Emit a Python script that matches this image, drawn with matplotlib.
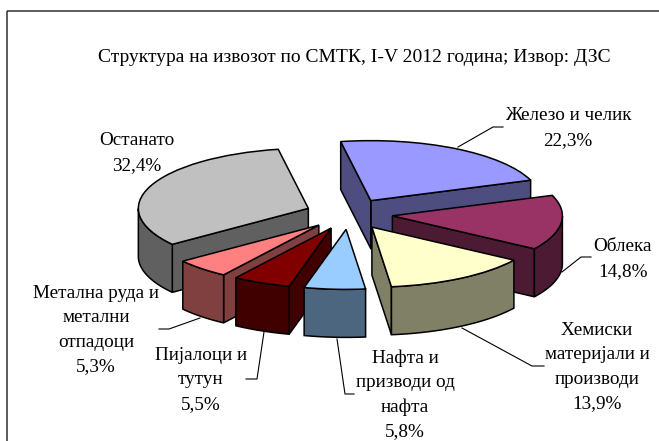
import numpy as np
import matplotlib
matplotlib.use('Agg')
import matplotlib.pyplot as plt
from matplotlib.patches import Polygon, Rectangle

# data
categories = ['Железо и челик', 'Облека', 'Хемиски\nматеријали и\nпроизводи', 'Нафта и\nпризводи од\nнафта',
              'Пијалоци и\nтутун', 'Метална руда и\nметални\nотпадоци', 'Останато']
values = [22.3, 14.8, 13.9, 5.8, 5.5, 5.3, 32.4]
value_labels = ['22,3%', '14,8%', '13,9%', '5,8%', '5,5%', '5,3%', '32,4%']
top_colors = ['#9999FF', '#993366', '#FFFFCC', '#99CCFF', '#800000', '#FF8080', '#C0C0C0']
side_colors = ['#4D4D80', '#4D1A33', '#808066', '#4D6680', '#400000', '#804040', '#606060']
title = 'Структура на извозот по СМТК, I-V 2012 година; Извор: ДЗС'

# label centres and leader lines, in pixels
label_pos = [(568, 128), (623, 259), (597, 367), (405, 395), (201, 380), (96, 330), (137, 153)]
leaders = [[(458, 147), (493, 127), (503, 127)],
           [(562, 272), (581, 257), (591, 257)],
           [(462, 328), (532, 366), (544, 366)],
           [(337, 339), (345, 394), (354, 394)],
           [(264, 332), (257, 379), (246, 379)],
           [(200, 318), (169, 329), (159, 329)],
           None]

W, H = 659, 441
cx, cy = 349, 214
rx, ry = 170, 60
depth = 48 / ry

plt.rcParams['font.family'] = ['Liberation Serif', 'DejaVu Serif']

fig = plt.figure(figsize=(W / 100, H / 100), dpi=100, facecolor='white')

# the pie is drawn in unit circle coordinates, the axes limits squash it
ax = fig.add_axes([0, 0, 1, 1])
wedges, _ = ax.pie(values, colors=top_colors, startangle=100.2, counterclock=False,
                   explode=[0.257] * len(values),
                   wedgeprops={'edgecolor': 'black', 'linewidth': 1.1})
ax.set_aspect('auto')
ax.set_xlim(-cx / rx, (W - cx) / rx)
ax.set_ylim((cy - H) / ry, cy / ry)
ax.axis('off')


def wall(xs, ys):
    # extrude a top edge straight down
    xs = np.asarray(xs)
    ys = np.asarray(ys)
    return np.column_stack([np.r_[xs, xs[::-1]], np.r_[ys, ys[::-1] - depth]])


# back slices first so the front ones cover them
mids = [(w.theta1 + w.theta2) / 2 for w in wedges]
order = np.argsort([-np.sin(np.radians(m)) for m in mids])
for rank, i in enumerate(order):
    w = wedges[i]
    x0, y0 = w.center
    z = 2 + rank
    faces = []
    # flat sides, only those facing the viewer
    for t, normal in [(w.theta1, w.theta1 - 90), (w.theta2, w.theta2 + 90)]:
        if np.sin(np.radians(normal)) < 0:
            a = np.radians(t)
            faces.append(wall([x0, x0 + np.cos(a)], [y0, y0 + np.sin(a)]))
    # round side
    ts = np.radians(np.linspace(w.theta1, w.theta2, 300))
    ts = ts[np.sin(ts) < 0]
    if len(ts) > 1:
        faces.append(wall(x0 + np.cos(ts), y0 + np.sin(ts)))
    for f in faces:
        ax.add_patch(Polygon(f, closed=True, facecolor=side_colors[i], edgecolor='black',
                             linewidth=1.1, zorder=z))
    w.set_zorder(z + 0.5)

# pixel overlay for frame, text and leaders
ov = fig.add_axes([0, 0, 1, 1])
ov.set_xlim(0, W)
ov.set_ylim(H, 0)
ov.axis('off')
ov.patch.set_alpha(0)

ov.add_patch(Rectangle((6.5, 10.5), W + 20, H + 20, fill=False, edgecolor='#303030', linewidth=1.1))
ov.text(354, 57, title, ha='center', va='center', fontsize=14, color='black')

for name, val, pos, line in zip(categories, value_labels, label_pos, leaders):
    ov.text(pos[0], pos[1], name + '\n' + val, ha='center', va='center', fontsize=13.8,
            linespacing=1.56, color='black')
    if line is not None:
        ov.plot([p[0] for p in line], [p[1] for p in line], color='black', linewidth=0.8)

fig.savefig('out.png', dpi=100)
